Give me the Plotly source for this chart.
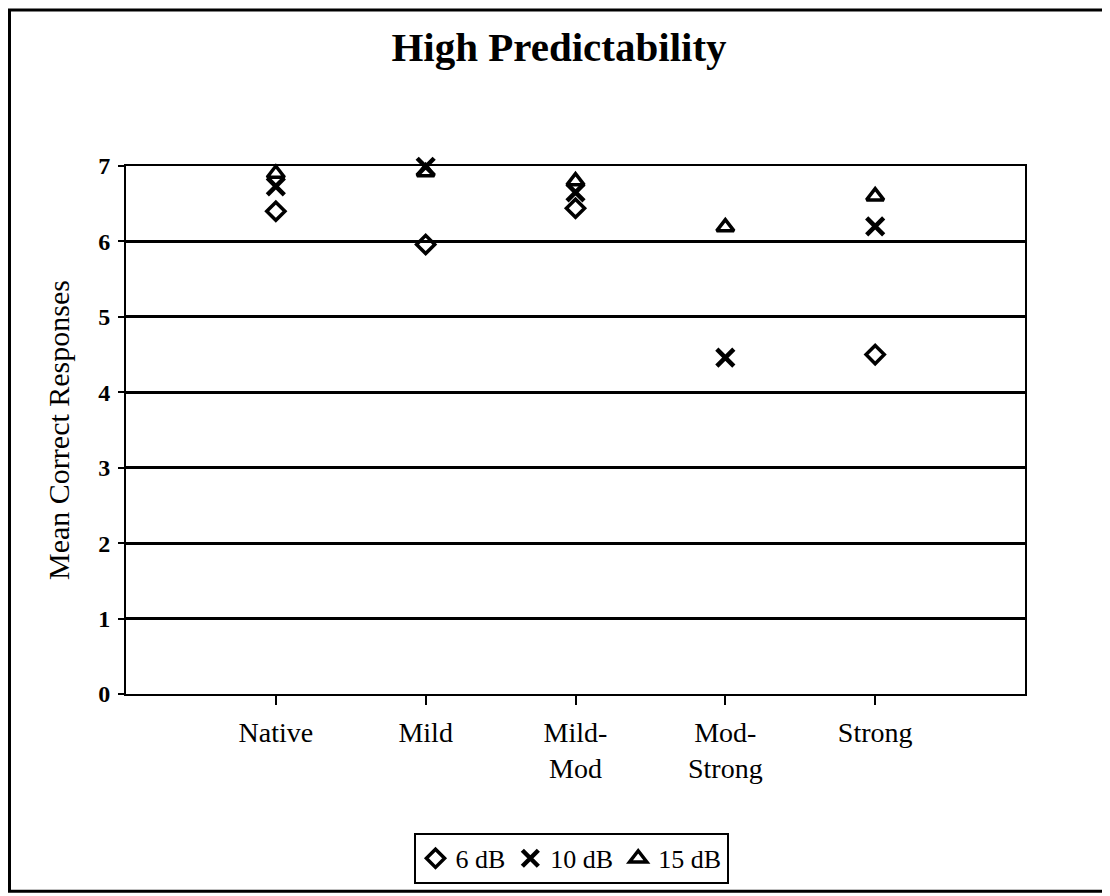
import plotly.graph_objects as go

categories = ["Native", "Mild", "Mild-<br>Mod", "Mod-<br>Strong", "Strong"]
cat_pos = [0, 1, 2, 3, 4]
db6 = [6.40, 5.96, 6.44, None, 4.50]
db10 = [6.73, 6.99, 6.65, 4.46, 6.20]
db15 = [6.90, 6.92, 6.80, 6.19, 6.60]
y_ticks = [0, 1, 2, 3, 4, 5, 6, 7]

FONT = "Liberation Serif, Times New Roman, serif"

fig = go.Figure()
fig.add_trace(go.Scatter(x=cat_pos, y=db6, mode="markers", name="6 dB", cliponaxis=False,
                         marker=dict(symbol="diamond-open", size=14, color="black",
                                     line=dict(width=3.5, color="black"))))
fig.add_trace(go.Scatter(x=cat_pos, y=db10, mode="markers", name="10 dB", cliponaxis=False,
                         marker=dict(symbol="x-thin-open", size=17, color="black",
                                     line=dict(width=4.5, color="black"))))
fig.add_trace(go.Scatter(x=cat_pos, y=db15, mode="markers", name="15 dB", cliponaxis=False,
                         marker=dict(symbol="triangle-up-open", size=15, color="black",
                                     line=dict(width=3.5, color="black"))))

# page is offset by the 8px body margin; figure coords = page coords - 8
W, H = 1102, 888
L, T = 118, 158
R, B = W - 1017, H - 688
pw, ph = W - L - R, H - T - B


def px(x):
    return (x - L) / pw


def py(y):
    return (H - B - y) / ph


fig.update_layout(
    width=W, height=H,
    margin=dict(l=L, r=R, t=T, b=B),
    paper_bgcolor="white", plot_bgcolor="white",
    font=dict(family=FONT, color="black", size=20),
    title=dict(text="<b>High Predictability</b>", x=0.5, xref="container", xanchor="center",
               y=1 - 39 / H, yanchor="middle",
               font=dict(family=FONT, size=41, color="black")),
    showlegend=True,
    legend=dict(orientation="h", x=px(563), xanchor="center", y=py(853), yanchor="middle",
                bordercolor="black", borderwidth=2, bgcolor="white",
                font=dict(family=FONT, size=26, color="black"),
                itemwidth=30, tracegroupgap=0),
    shapes=[dict(type="rect", xref="paper", yref="paper",
                 x0=px(1.5), x1=px(1120), y0=py(886), y1=py(1.5),
                 line=dict(color="black", width=3), layer="below")],
    xaxis2=dict(overlaying="x", matches="x", anchor="y", side="bottom",
                range=[-1.0, 5.0], tickvals=cat_pos, showticklabels=False,
                ticks="inside", ticklen=9, tickwidth=2, tickcolor="black",
                showgrid=False, zeroline=False, showline=False),
)

fig.layout.xaxis.update(
    range=[-1.0, 5.0], tickvals=cat_pos, ticktext=categories,
    showgrid=False, zeroline=False,
    showline=True, linecolor="black", linewidth=2, mirror=True,
    ticks="outside", ticklen=9, tickwidth=2, tickcolor="black",
    ticklabelstandoff=3,
    tickfont=dict(family=FONT, size=28, color="black"),
)
fig.update_yaxes(
    range=[0, 7], tickvals=y_ticks,
    showgrid=True, gridcolor="black", gridwidth=3, zeroline=False,
    showline=True, linecolor="black", linewidth=2, mirror=True,
    ticks="outside", ticklen=6, tickwidth=2, tickcolor="black",
    ticklabelstandoff=3,
    tickfont=dict(family=FONT, size=24, color="black", weight="bold"),
    title=dict(text="Mean Correct Responses", standoff=20,
               font=dict(family=FONT, size=30, color="black")),
)

fig.write_html("out.html")
